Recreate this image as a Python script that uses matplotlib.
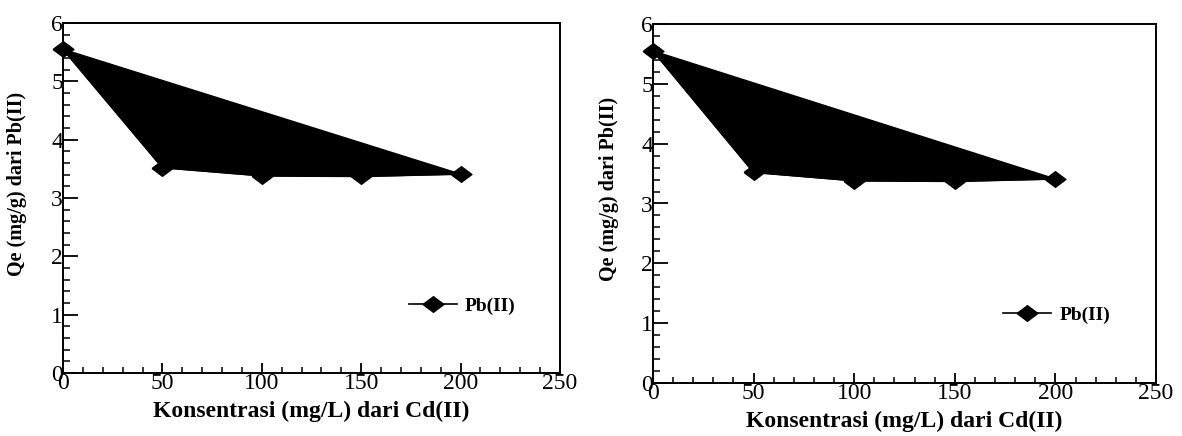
import matplotlib
matplotlib.use("Agg")
import matplotlib.pyplot as plt
from matplotlib.ticker import MultipleLocator

# === Datos ===
konsentrasi_cd = [0, 50, 100, 150, 200]
qe_pb = [5.55, 3.52, 3.38, 3.37, 3.41]
x_ticks = [0, 50, 100, 150, 200, 250]
y_ticks = [0, 1, 2, 3, 4, 5, 6]
x_label = "Konsentrasi (mg/L) dari Cd(II)"
y_label = "Qe (mg/g) dari Pb(II)"
legend_label = "Pb(II)"

plt.rcParams['font.family'] = ['Liberation Serif', 'DejaVu Serif']

W, H = 1182, 436
fig = plt.figure(figsize=(W / 100, H / 100), dpi=100)

# diamante ancho (más ancho que alto)
diamante = [(-1, 0), (0, 0.75), (1, 0), (0, -0.75), (-1, 0)]

# posiciones de los ejes en píxeles: (izq, abajo, der, arriba), leyenda, ylabel x
paneles = [(63, 373, 560, 23, (0.68, 0.19), -0.072),
           (653, 383, 1156, 24, (0.68, 0.19), -0.068)]

for x0, yb, x1, yt, leg_pos, ylab_x in paneles:
    ax = fig.add_axes([x0 / W, (H - yb) / H, (x1 - x0) / W, (yb - yt) / H])
    ax.fill(konsentrasi_cd, qe_pb, color='black', zorder=2)
    ax.plot(konsentrasi_cd, qe_pb, color='black', lw=1.2, marker=diamante,
            markersize=15, label=legend_label, zorder=3, clip_on=False)

    ax.set_xlim(0, 250)
    ax.set_ylim(0, 6)
    ax.set_xticks(x_ticks)
    ax.set_yticks(y_ticks)
    ax.xaxis.set_minor_locator(MultipleLocator(10))
    ax.yaxis.set_minor_locator(MultipleLocator(0.2))
    ax.tick_params(axis='both', which='both', direction='in', top=False, right=False)
    ax.tick_params(axis='x', which='major', length=7, width=1.3, labelsize=17, pad=0)
    ax.tick_params(axis='x', which='minor', length=4, width=1.1)
    ax.tick_params(axis='y', which='major', length=11, width=1.3, labelsize=17, pad=0)
    ax.tick_params(axis='y', which='minor', length=5, width=1.1)
    for s in ax.spines.values():
        s.set_linewidth(1.4)

    ax.set_xlabel(x_label, fontsize=17, fontweight='bold', labelpad=5)
    ax.set_ylabel(y_label, fontsize=14.5, fontweight='bold')
    ax.yaxis.set_label_coords(ylab_x, 0.54)

    ax.legend(loc='center left', bbox_to_anchor=leg_pos, frameon=False,
              prop={'weight': 'bold', 'size': 14}, handlelength=2.5,
              handletextpad=0.4, borderaxespad=0)

fig.savefig("out.png", dpi=100)
